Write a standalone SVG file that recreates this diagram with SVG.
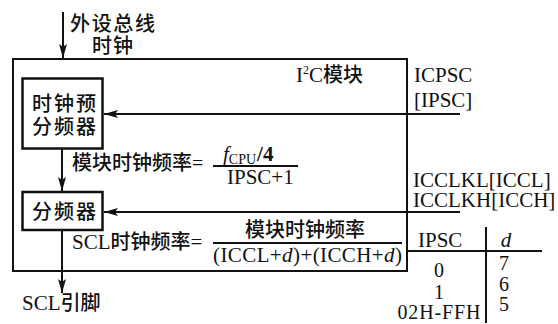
<svg xmlns="http://www.w3.org/2000/svg" width="558" height="324" viewBox="0 0 558 324">
<defs>
<marker id="ah" markerUnits="userSpaceOnUse" markerWidth="14" markerHeight="10" viewBox="0 0 14 10" refX="14" refY="5" orient="auto">
<path d="M0,1 L14,5 L0,9 L3,5 Z" fill="#111"/>
</marker>
<style>
.t{font-family:"Liberation Serif","Noto Sans CJK SC",serif;font-size:21px;fill:#111}
.c{font-family:"Noto Sans CJK SC","Liberation Serif",sans-serif;font-size:20px;font-weight:500;fill:#111}
.v{font-family:"Liberation Serif",serif;font-size:20px;fill:#111}
.box{fill:none;stroke:#111;stroke-width:2.5}
.ln{fill:none;stroke:#111;stroke-width:2}
.arr{fill:none;stroke:#111;stroke-width:2;marker-end:url(#ah)}
.i{font-style:italic}
</style>
</defs>
<rect width="558" height="324" fill="#fff"/>

<g id="i2c-module">
<rect x="13" y="59" width="394" height="212" class="ln" stroke-width="2.2"/>
<text x="296" y="82" class="t">I<tspan font-size="12" dy="-8">2</tspan><tspan dy="8">C</tspan><tspan class="c" font-family="Noto Sans CJK SC" font-size="21">模块</tspan></text>
</g>

<g id="bus-clock-label">
<text x="70" y="31" class="c" textLength="85">外设总线</text>
<text x="92" y="53" class="c" textLength="41">时钟</text>
</g>

<g id="prescaler">
<rect x="22.5" y="78.5" width="80" height="70" class="box"/>
<text x="32" y="111" class="c" textLength="64">时钟预</text>
<text x="32" y="134" class="c" textLength="64">分频器</text>
</g>

<g id="divider">
<rect x="22.5" y="192" width="80" height="38" class="box"/>
<text x="32" y="219" class="c" textLength="64">分频器</text>
</g>

<g id="scl-pin">
<text x="22" y="310" class="t">SCL<tspan class="c" font-family="Noto Sans CJK SC" font-size="21">引脚</tspan></text>
</g>

<g id="icpsc-label">
<text x="414" y="82" class="t">ICPSC</text>
<text x="414" y="107" class="t">[IPSC]</text>
</g>

<g id="icclk-label">
<text x="413" y="187" class="t">ICCLKL[ICCL]</text>
<text x="413" y="207" class="t">ICCLKH[ICCH]</text>
</g>

<g id="formula1">
<text x="72" y="170" class="c" font-size="21">模块时钟频率<tspan font-family="Liberation Serif" font-weight="normal">=</tspan></text>
<text x="223" y="161" class="t"><tspan class="i">f</tspan><tspan font-size="14" dy="3">CPU</tspan><tspan dy="-3" dx="1" font-weight="bold">/4</tspan></text>
<line x1="213" y1="166" x2="298" y2="166" class="ln" stroke-width="1.6"/>
<text x="227" y="184" class="t">IPSC+1</text>
</g>

<g id="formula2">
<text x="72" y="249" class="t">SCL<tspan class="c" font-family="Noto Sans CJK SC" font-size="21">时钟频率</tspan>=</text>
<text x="245" y="237" class="c" font-size="21">模块时钟频率</text>
<line x1="213" y1="243" x2="402" y2="243" class="ln" stroke-width="1.6"/>
<text x="213" y="262" class="t" textLength="189">(ICCL+<tspan class="i">d</tspan>)+(ICCH+<tspan class="i">d</tspan>)</text>
</g>

<g id="table">
<line x1="407" y1="251" x2="542" y2="251" class="ln"/>
<line x1="486" y1="227" x2="486" y2="323" class="ln"/>
<text x="418" y="247" class="t">IPSC</text>
<text x="506" y="247" class="t i" text-anchor="middle">d</text>
<text x="439" y="277" class="v" text-anchor="middle">0</text>
<text x="439" y="299" class="v" text-anchor="middle">1</text>
<text x="439" y="319" class="v" text-anchor="middle" textLength="83">02H-FFH</text>
<text x="504" y="270" class="v" text-anchor="middle">7</text>
<text x="504" y="291" class="v" text-anchor="middle">6</text>
<text x="504" y="311" class="v" text-anchor="middle">5</text>
</g>

<g id="connectors">
<line x1="63" y1="12" x2="63" y2="58" class="arr"/>
<line x1="460" y1="114" x2="104" y2="114" class="arr"/>
<line x1="62" y1="149" x2="62" y2="191" class="arr"/>
<line x1="460" y1="212" x2="104" y2="212" class="arr"/>
<line x1="62" y1="231" x2="62" y2="293" class="arr"/>
</g>
</svg>
